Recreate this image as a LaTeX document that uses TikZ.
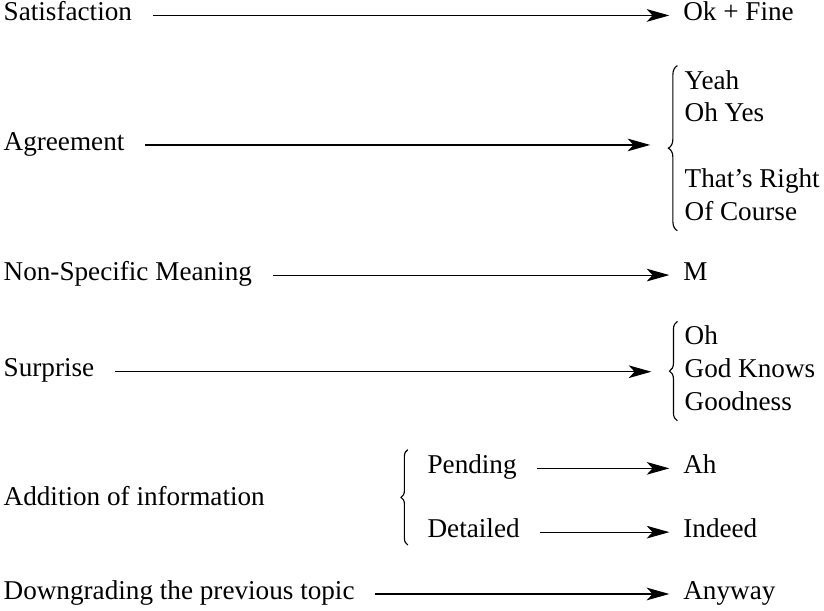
\documentclass[tikz,border=0pt]{standalone}
\usepackage{fontspec}
\setmainfont{Liberation Serif}
\usetikzlibrary{arrows.meta,decorations.pathreplacing}

\begin{document}
\begin{tikzpicture}[
    every node/.style={font=\fontsize{12pt}{14.5pt}\selectfont, inner sep=0pt},
    term/.style={anchor=mid west},
    cue/.style={anchor=mid west},
    cuelist/.style={anchor=west},
    link/.style={-{Stealth[length=10pt, width=5.6pt, inset=2.6pt]}, line width=0.5pt,
                 shorten <=9pt, shorten >=6pt},
    curly/.style={decorate, decoration={brace, amplitude=#1}, line width=0.5pt},
    curly/.default=4pt,
]
\useasboundingbox (0,0) rectangle (12.79,9.48);

% Satisfaction
\node[term] (sat) at (0.05, 9.24) {Satisfaction};
\node[cue] (satOut) at (10.60, 9.24) {Ok + Fine};
\draw[link] (sat.mid east) -- (satOut.mid west);

% Agreement (list behind a brace)
\node[term] (agr) at (0.05, 7.23) {Agreement};
\node[cuelist] (agrList) at (10.62, 7.18) {\begin{tabular}{@{}l@{}}Yeah\\Oh Yes\\ \\That's Right\\Of Course\end{tabular}};
\draw[curly] ([xshift=-3pt]agrList.south west) -- ([xshift=-3pt]agrList.north west);
\coordinate (agrTip) at ([xshift=-7pt]agrList.west);
\draw[link, shorten >=8pt] (agr.mid east) -- (agr.mid east -| agrTip);

% Non-specific meaning
\node[term] (nsm) at (0.05, 5.21) {Non-Specific Meaning};
\node[cue] (nsmOut) at (10.60, 5.21) {M};
\draw[link] (nsm.mid east) -- (nsmOut.mid west);

% Surprise
\node[term] (sur) at (0.05, 3.71) {Surprise};
\node[cuelist] (surList) at (10.62, 3.72) {\begin{tabular}{@{}l@{}}Oh\\God Knows\\Goodness\end{tabular}};
\draw[curly=3.5pt] ([xshift=-3pt]surList.south west) -- ([xshift=-3pt]surList.north west);
\coordinate (surTip) at ([xshift=-6.5pt]surList.west);
\draw[link, shorten >=8pt] (sur.mid east) -- (sur.mid east -| surTip);

% Addition of information, split in two
\node[term] (add) at (0.05, 1.72) {Addition of information};
\coordinate (addBot) at (6.33, 1.02);
\coordinate (addTop) at (6.33, 2.50);
\draw[curly=3pt] (addBot) -- (addTop);

\node[term] (pend) at (6.63, 2.21) {Pending};
\node[cue] (pendOut) at (10.60, 2.21) {Ah};
\draw[link] (pend.mid east) -- (pendOut.mid west);

\node[term] (detl) at (6.63, 1.22) {Detailed};
\node[cue] (detlOut) at (10.60, 1.22) {Indeed};
\draw[link] (detl.mid east) -- (detlOut.mid west);

% Downgrading
\node[term] (down) at (0.05, 0.26) {Downgrading the previous topic};
\node[cue] (downOut) at (10.60, 0.26) {Anyway};
\draw[link] (down.mid east) -- (downOut.mid west);

\end{tikzpicture}
\end{document}
